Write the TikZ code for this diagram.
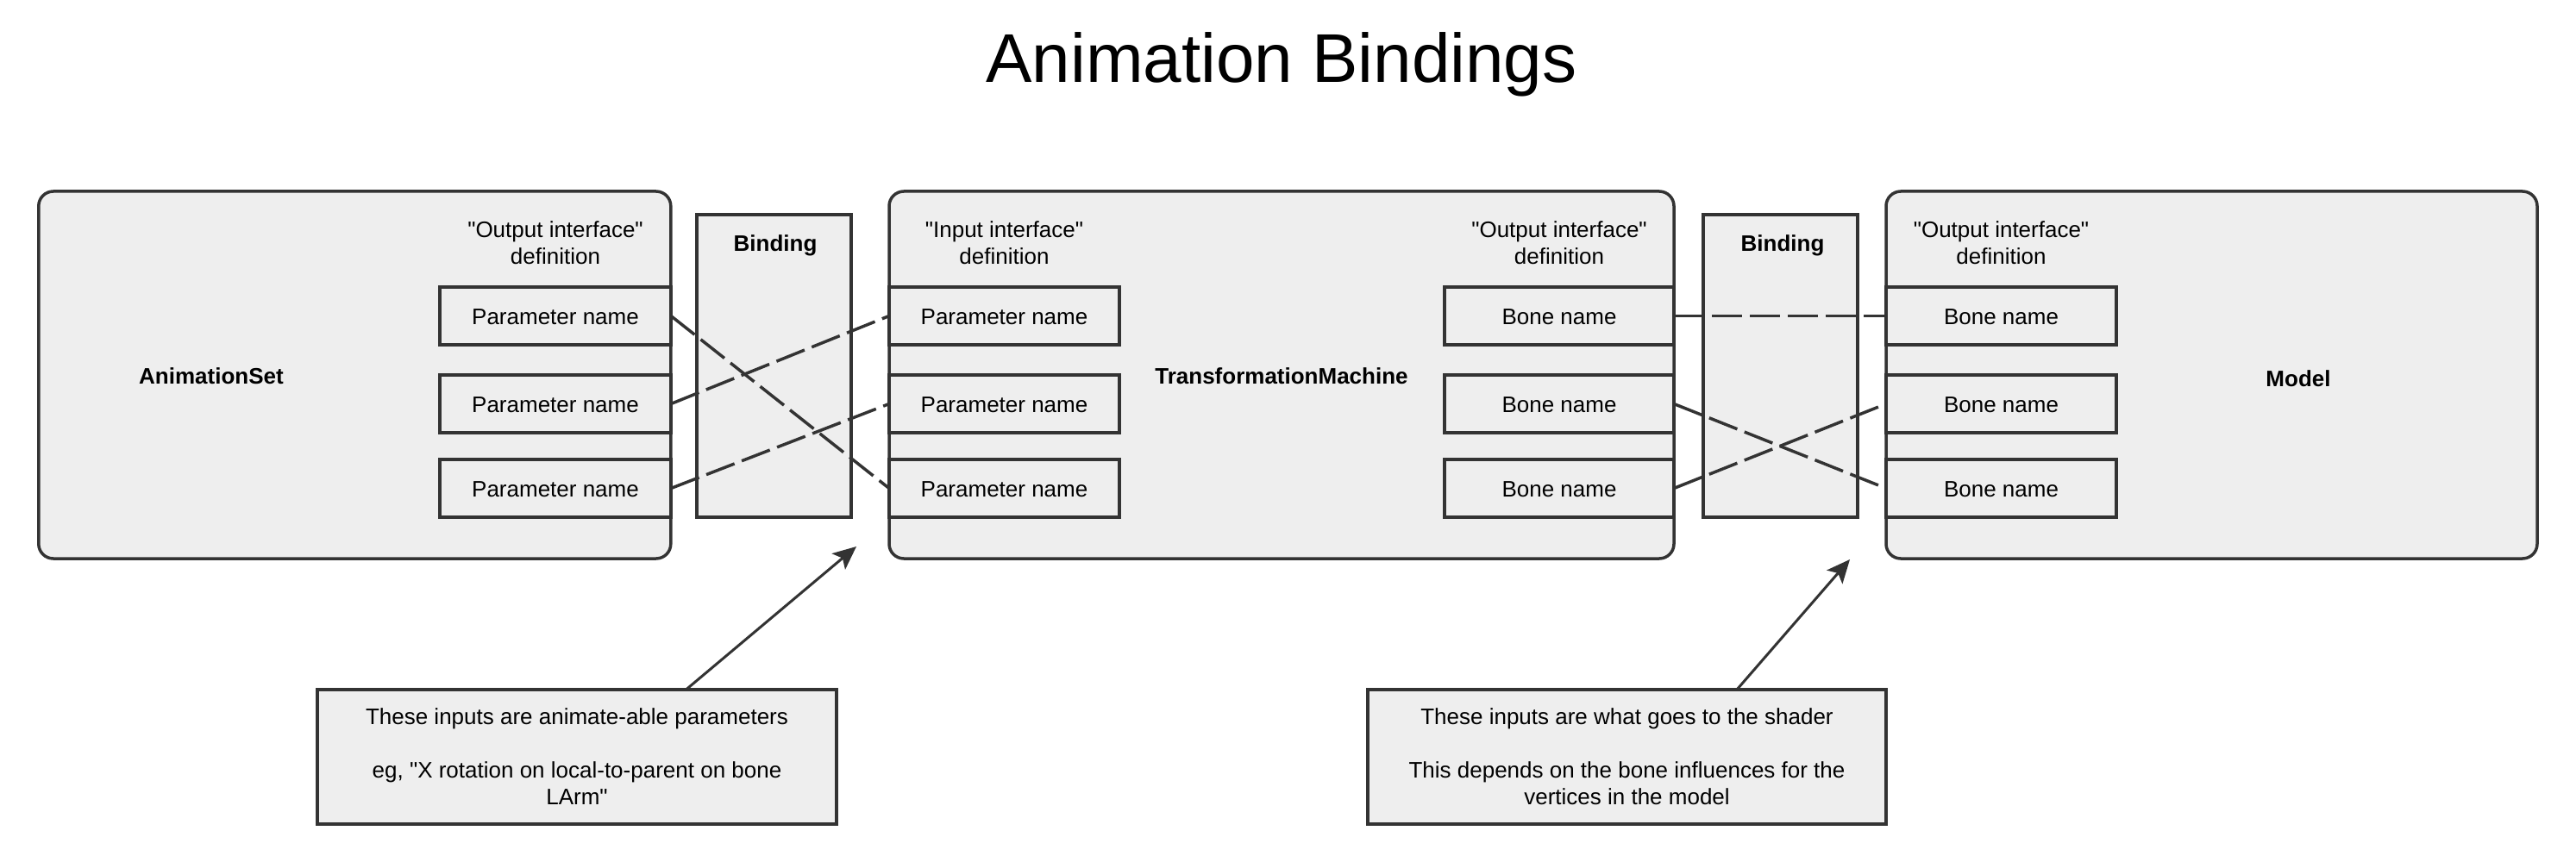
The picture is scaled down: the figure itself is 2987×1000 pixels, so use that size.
\documentclass[tikz,border=0pt]{standalone}
\usepackage{fontspec}
\setmainfont{Liberation Sans}
\usetikzlibrary{arrows.meta,calc}
\definecolor{edge}{HTML}{333333}
\definecolor{boxfill}{HTML}{EEEEEE}
\newcommand\dq{{\XeTeXglyph\XeTeXglyphindex "quotedbl"\relax}}
\begin{document}
\begin{tikzpicture}[x=1pt,y=-1pt,
  every node/.style={inner sep=0pt, outer sep=0pt, text=black},
  cont/.style={draw=edge, fill=boxfill, line width=3.5pt, rounded corners=17pt},
  bindbox/.style={draw=edge, fill=boxfill, line width=3.5pt},
  pbox/.style={draw=edge, fill=boxfill, line width=3.5pt, minimum height=67pt,
    text height=19pt, text depth=0pt, font=\fontsize{26}{31}\selectfont},
  txt/.style={font=\fontsize{26}{31}\selectfont, align=center},
  boldlbl/.style={font=\fontsize{26}{31}\selectfont\bfseries, anchor=base},
  notebox/.style={draw=edge, fill=boxfill, line width=3.5pt, align=center,
    font=\fontsize{26}{31}\selectfont},
  conn/.style={draw=edge, line width=3.5pt, dash pattern=on 35pt off 9pt},
  arr/.style={draw=edge, line width=3pt, -{Stealth[length=27pt,width=24pt,inset=6pt]}}
]
\useasboundingbox (0,0) rectangle (2987,1000);

% title
\node[anchor=base, font=\fontsize{80}{96}\selectfont] (title) at (1486,96) {Animation Bindings};

% containers
\node[cont, minimum width=733pt, minimum height=426pt] (as) at (411.3,435) {};
\node[cont, minimum width=910pt, minimum height=426pt] (tm) at (1486,435) {};
\node[cont, minimum width=755pt, minimum height=426pt] (md) at (2564.5,435) {};

\node[boldlbl] (aslbl) at (245,445) {AnimationSet};
\node[boldlbl] (tmlbl) at (1486,445) {TransformationMachine};
\node[boldlbl] (mdlbl) at (2665,448) {Model};

% binding boxes
\node[bindbox, minimum width=179pt, minimum height=351pt] (b1) at (897.5,424.5) {};
\node[bindbox, minimum width=179pt, minimum height=351pt] (b2) at (2064.5,424.5) {};
\node[boldlbl] (b1lbl) at (899,291) {Binding};
\node[boldlbl] (b2lbl) at (2067,291) {Binding};

% interface labels
\node[txt] (asif) at (644,281.5) {\dq Output interface\dq\\definition};
\node[txt] (tmin) at (1164.5,281.5) {\dq Input interface\dq\\definition};
\node[txt] (tmout) at (1808,281.5) {\dq Output interface\dq\\definition};
\node[txt] (mdif) at (2320.5,281.5) {\dq Output interface\dq\\definition};

% parameter / bone boxes
\node[pbox, minimum width=268pt] (ap1) at (644,366.5) {Parameter name};
\node[pbox, minimum width=268pt] (ap2) at (644,468.5) {Parameter name};
\node[pbox, minimum width=268pt] (ap3) at (644,566.5) {Parameter name};

\node[pbox, minimum width=267pt] (ip1) at (1164.5,366.5) {Parameter name};
\node[pbox, minimum width=267pt] (ip2) at (1164.5,468.5) {Parameter name};
\node[pbox, minimum width=267pt] (ip3) at (1164.5,566.5) {Parameter name};

\node[pbox, minimum width=266pt] (bo1) at (1808,366.5) {Bone name};
\node[pbox, minimum width=266pt] (bo2) at (1808,468.5) {Bone name};
\node[pbox, minimum width=266pt] (bo3) at (1808,566.5) {Bone name};

\node[pbox, minimum width=267pt] (mb1) at (2320.5,366.5) {Bone name};
\node[pbox, minimum width=267pt] (mb2) at (2320.5,468.5) {Bone name};
\node[pbox, minimum width=267pt] (mb3) at (2320.5,566.5) {Bone name};

% connectors
\draw[conn] (ap1.east) -- (ip3.west);
\draw[conn] (ap2.east) -- (ip1.west);
\draw[conn] (ap3.east) -- (ip2.west);
\draw[conn] (bo1.east) -- (mb1.west);
\draw[conn] (bo2.east) -- (mb3.west);
\draw[conn] (bo3.east) -- (mb2.west);

% notes
\node[notebox, minimum width=602pt, minimum height=156pt] (n1) at (669,878)
  {These inputs are animate-able parameters\\[31pt]eg, \dq X rotation on local-to-parent on bone\\LArm\dq};
\node[notebox, minimum width=601pt, minimum height=156pt] (n2) at (1886.5,878)
  {These inputs are what goes to the shader\\[31pt]This depends on the bone influences for the\\vertices in the model};

\coordinate (t1) at (993,634);
\coordinate (t2) at (2145,649);
\draw[arr] ([xshift=126.5pt]n1.north) -- (t1);
\draw[arr] ([xshift=127.5pt]n2.north) -- (t2);
\end{tikzpicture}
\end{document}
